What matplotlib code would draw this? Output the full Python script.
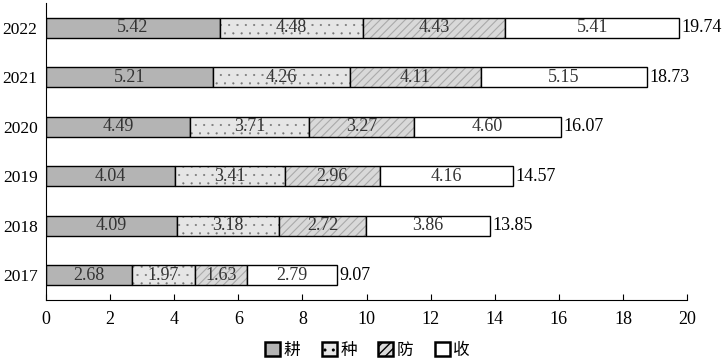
import matplotlib as mpl
import matplotlib.pyplot as plt
import numpy as np

plt.rcParams['font.family'] = ['Liberation Serif', 'Noto Sans CJK SC']

years = ['2017', '2018', '2019', '2020', '2021', '2022']
geng = [2.68, 4.09, 4.04, 4.49, 5.21, 5.42]
zhong = [1.97, 3.18, 3.41, 3.71, 4.26, 4.48]
fang = [1.63, 2.72, 2.96, 3.27, 4.11, 4.43]
shou = [2.79, 3.86, 4.16, 4.60, 5.15, 5.41]
totals = [9.07, 13.85, 14.57, 16.07, 18.73, 19.74]
names = ['耕', '种', '防', '收']

fig = plt.figure(figsize=(7.28, 3.64), dpi=100)
ax = fig.add_axes([0.063, 0.176, 0.881, 0.816])

y = np.arange(len(years))
styles = [
    dict(color='#b4b4b4', hatch=None, hcolor='black', hlw=0.7),
    dict(color='#e6e6e6', hatch='..', hcolor='#777777', hlw=0.3),
    dict(color='#d9d9d9', hatch='////', hcolor='#aaaaaa', hlw=0.8),
    dict(color='white', hatch=None, hcolor='black', hlw=0.7),
]

left = np.zeros(len(years))
handles = []
for vals, name, st in zip([geng, zhong, fang, shou], names, styles):
    vals = np.array(vals)
    with mpl.rc_context({'hatch.linewidth': st['hlw']}):
        # hatch drawn with its own edge colour, then the black outline on top
        ax.barh(y, vals, left=left, height=0.4, color=st['color'],
                hatch=st['hatch'], edgecolor=st['hcolor'], linewidth=0)
        handles.append(plt.Rectangle((0, 0), 1, 1, facecolor=st['color'],
                                     hatch=st['hatch'], edgecolor='black',
                                     linewidth=1.8))
    ax.barh(y, vals, left=left, height=0.4, fill=False,
            edgecolor='black', linewidth=1)
    for yi, l, v in zip(y, left, vals):
        ax.text(l + v / 2, yi, f'{v:.2f}', ha='center', va='center',
                fontsize=13, color='#333333')
    left = left + vals

for yi, t in zip(y, totals):
    ax.text(t + 0.08, yi, f'{t:.2f}', ha='left', va='center', fontsize=13)

ax.set_xlim(0, 20)
ax.set_ylim(-0.5, 5.5)
ax.set_xticks(range(0, 21, 2))
ax.set_yticks(y)
ax.set_yticklabels(years)
ax.tick_params(axis='x', direction='in', length=4, labelsize=13, pad=8)
ax.tick_params(axis='y', length=0, labelsize=12.5, pad=6)
for s in ['top', 'right']:
    ax.spines[s].set_visible(False)

fig.legend(handles, names, loc='center', ncol=4, frameon=False,
           bbox_to_anchor=(0.505, 0.038), handlelength=0.9, handleheight=0.9,
           columnspacing=1.3, handletextpad=0.2,
           prop={'family': ['Noto Sans CJK SC'], 'size': 12})

plt.savefig('out.png')
